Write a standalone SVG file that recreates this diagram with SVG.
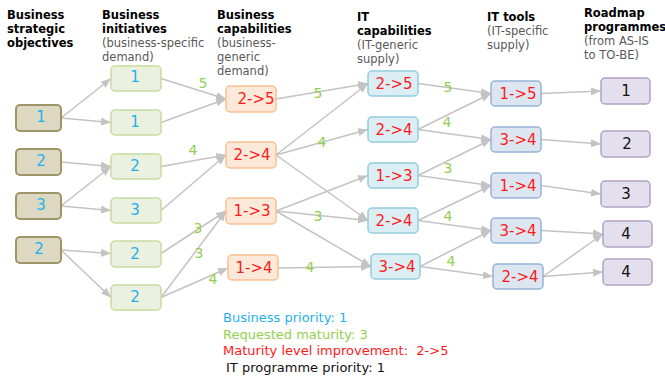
<svg xmlns="http://www.w3.org/2000/svg" width="665" height="378" viewBox="0 0 665 378">
<style>
text{font-family:"DejaVu Sans",Verdana,sans-serif}
.h{font-size:11.5px;fill:#000}
.hb{font-weight:bold}
.hg{fill:#595959}
.n rect{stroke-width:1.5}
.o rect{fill:#ddd8c2;stroke:#9f9567;stroke-width:2}
.i rect{fill:#ebf1de;stroke:#c6dba0}
.b rect{fill:#fde9d9;stroke:#fac090}
.c rect{fill:#daeef3;stroke:#93cddd}
.t rect{fill:#dce6f1;stroke:#95b3d7}
.r rect{fill:#e4dfec;stroke:#b2a1c7}
.n text{font-size:15px;text-anchor:middle}
.blue{fill:#1fb0f0}
.red{fill:#ff1a1a}
.blk{fill:#111}
.lbl{font-size:14px;fill:#92d050;text-anchor:middle}
#connectors line{stroke:#c3c3c3;stroke-width:1.5;marker-end:url(#arr)}
.lg{font-size:13px;white-space:pre}
</style>
<defs>
<marker id="arr" markerUnits="userSpaceOnUse" markerWidth="10" markerHeight="8" refX="10" refY="4" orient="auto">
<path d="M0,0 L10,4 L0,8 Z" fill="#c3c3c3"/>
</marker>
</defs>
<rect width="665" height="378" fill="#fff"/>
<g id="headers" class="h">
<text x="7" y="19" class="hb"><tspan x="7">Business</tspan><tspan x="7" dy="14">strategic</tspan><tspan x="7" dy="14">objectives</tspan></text>
<text x="102" y="19"><tspan x="102" class="hb">Business</tspan><tspan x="102" dy="14" class="hb">initiatives</tspan><tspan x="102" dy="14" class="hg">(business-specific</tspan><tspan x="102" dy="14" class="hg">demand)</tspan></text>
<text x="217" y="19"><tspan x="217" class="hb">Business</tspan><tspan x="217" dy="14" class="hb">capabilities</tspan><tspan x="217" dy="14" class="hg">(business-</tspan><tspan x="217" dy="14" class="hg">generic</tspan><tspan x="217" dy="14" class="hg">demand)</tspan></text>
<text x="357" y="21"><tspan x="357" class="hb">IT</tspan><tspan x="357" dy="14" class="hb">capabilities</tspan><tspan x="357" dy="14" class="hg">(IT-generic</tspan><tspan x="357" dy="14" class="hg">supply)</tspan></text>
<text x="487" y="21"><tspan x="487" class="hb">IT tools</tspan><tspan x="487" dy="14" class="hg">(IT-specific</tspan><tspan x="487" dy="14" class="hg">supply)</tspan></text>
<text x="584" y="17"><tspan x="584" class="hb">Roadmap</tspan><tspan x="584" dy="14" class="hb">programmes</tspan><tspan x="584" dy="14" class="hg">(from AS-IS</tspan><tspan x="584" dy="14" class="hg">to TO-BE)</tspan></text>
</g>
<g id="connectors">
<line x1="61" y1="118" x2="111" y2="78.5"/>
<line x1="61" y1="118" x2="111" y2="122.5"/>
<line x1="61" y1="162" x2="111" y2="166.5"/>
<line x1="61" y1="206" x2="111" y2="166.5"/>
<line x1="61" y1="206" x2="111" y2="210.5"/>
<line x1="61" y1="250" x2="111" y2="253.5"/>
<line x1="61" y1="250" x2="111" y2="297.5"/>
<line x1="161" y1="78.5" x2="226" y2="99"/>
<line x1="161" y1="122.5" x2="226" y2="99"/>
<line x1="161" y1="166.5" x2="226" y2="155"/>
<line x1="161" y1="210.5" x2="226" y2="155"/>
<line x1="161" y1="253.5" x2="226" y2="211"/>
<line x1="161" y1="297.5" x2="226" y2="211"/>
<line x1="161" y1="297.5" x2="228" y2="268"/>
<line x1="276" y1="99" x2="368" y2="83.5"/>
<line x1="276" y1="155" x2="368" y2="83.5"/>
<line x1="276" y1="155" x2="368" y2="129.5"/>
<line x1="276" y1="155" x2="368" y2="220.5"/>
<line x1="276" y1="211" x2="368" y2="175.5"/>
<line x1="276" y1="211" x2="368" y2="220.5"/>
<line x1="276" y1="211" x2="371" y2="266.5"/>
<line x1="278" y1="268" x2="371" y2="266.5"/>
<line x1="418" y1="83.5" x2="491" y2="93.5"/>
<line x1="418" y1="129.5" x2="491" y2="93.5"/>
<line x1="418" y1="129.5" x2="491" y2="139.5"/>
<line x1="418" y1="175.5" x2="491" y2="139.5"/>
<line x1="418" y1="175.5" x2="491" y2="185.5"/>
<line x1="418" y1="220.5" x2="491" y2="185.5"/>
<line x1="418" y1="220.5" x2="491" y2="230.5"/>
<line x1="420" y1="266.5" x2="491" y2="230.5"/>
<line x1="420" y1="266.5" x2="493" y2="276.5"/>
<line x1="541" y1="93.5" x2="601" y2="91"/>
<line x1="541" y1="139.5" x2="601" y2="144"/>
<line x1="541" y1="185.5" x2="601" y2="194"/>
<line x1="541" y1="230.5" x2="603" y2="234"/>
<line x1="543" y1="276.5" x2="603" y2="234"/>
<line x1="543" y1="276.5" x2="603" y2="272"/>
</g>
<g id="edge-labels" class="lbl">
<text x="203" y="88">5</text>
<text x="193" y="155">4</text>
<text x="198" y="233">3</text>
<text x="199" y="258">3</text>
<text x="213" y="284">4</text>
<text x="318" y="98">5</text>
<text x="322" y="147">4</text>
<text x="318" y="221">3</text>
<text x="310" y="272">4</text>
<text x="448" y="92">5</text>
<text x="447" y="127">4</text>
<text x="448" y="173">3</text>
<text x="448" y="221">4</text>
<text x="451" y="266">4</text>
</g>
<g id="o1" class="n o"><rect x="16" y="105" width="45" height="26" rx="4"/><text x="41" y="121.5" class="blue">1</text></g>
<g id="o2" class="n o"><rect x="16" y="149" width="45" height="26" rx="4"/><text x="41" y="165.5" class="blue">2</text></g>
<g id="o3" class="n o"><rect x="16" y="193" width="45" height="26" rx="4"/><text x="41" y="209.5" class="blue">3</text></g>
<g id="o4" class="n o"><rect x="16" y="237" width="45" height="26" rx="4"/><text x="39" y="253.5" class="blue">2</text></g>
<g id="i1" class="n i"><rect x="111" y="66" width="50" height="25" rx="4"/><text x="135" y="82" class="blue">1</text></g>
<g id="i2" class="n i"><rect x="111" y="110" width="50" height="25" rx="4"/><text x="135" y="127" class="blue">1</text></g>
<g id="i3" class="n i"><rect x="111" y="154" width="50" height="25" rx="4"/><text x="135" y="171" class="blue">2</text></g>
<g id="i4" class="n i"><rect x="111" y="198" width="50" height="25" rx="4"/><text x="135" y="215" class="blue">3</text></g>
<g id="i5" class="n i"><rect x="111" y="241" width="50" height="26" rx="4"/><text x="135" y="258.5" class="blue">2</text></g>
<g id="i6" class="n i"><rect x="111" y="285" width="50" height="25" rx="4"/><text x="135" y="302" class="blue">2</text></g>
<g id="b1" class="n b"><rect x="226" y="86" width="50" height="26" rx="4"/><text x="256" y="104" class="red">2-&gt;5</text></g>
<g id="b2" class="n b"><rect x="226" y="142" width="50" height="26" rx="4"/><text x="252" y="160" class="red">2-&gt;4</text></g>
<g id="b3" class="n b"><rect x="226" y="198" width="50" height="26" rx="4"/><text x="252" y="216" class="red">1-&gt;3</text></g>
<g id="b4" class="n b"><rect x="228" y="255" width="50" height="25" rx="4"/><text x="254" y="272.5" class="red">1-&gt;4</text></g>
<g id="c1" class="n c"><rect x="368" y="71" width="50" height="25" rx="4"/><text x="394" y="88.5" class="red">2-&gt;5</text></g>
<g id="c2" class="n c"><rect x="368" y="117" width="50" height="25" rx="4"/><text x="394" y="134.5" class="red">2-&gt;4</text></g>
<g id="c3" class="n c"><rect x="368" y="163" width="50" height="25" rx="4"/><text x="394" y="180.5" class="red">1-&gt;3</text></g>
<g id="c4" class="n c"><rect x="368" y="208" width="50" height="25" rx="4"/><text x="394" y="225.5" class="red">2-&gt;4</text></g>
<g id="c5" class="n c"><rect x="371" y="254" width="49" height="25" rx="4"/><text x="397" y="271.5" class="red">3-&gt;4</text></g>
<g id="t1" class="n t"><rect x="491" y="81" width="50" height="25" rx="4"/><text x="518" y="98.5" class="red">1-&gt;5</text></g>
<g id="t2" class="n t"><rect x="491" y="127" width="50" height="25" rx="4"/><text x="518" y="144.5" class="red">3-&gt;4</text></g>
<g id="t3" class="n t"><rect x="491" y="173" width="50" height="25" rx="4"/><text x="518" y="190.5" class="red">1-&gt;4</text></g>
<g id="t4" class="n t"><rect x="491" y="218" width="50" height="25" rx="4"/><text x="518" y="235.5" class="red">3-&gt;4</text></g>
<g id="t5" class="n t"><rect x="493" y="264" width="50" height="25" rx="4"/><text x="520" y="281.5" class="red">2-&gt;4</text></g>
<g id="r1" class="n r"><rect x="601" y="78" width="49" height="26" rx="4"/><text x="626" y="96" class="blk">1</text></g>
<g id="r2" class="n r"><rect x="601" y="131" width="49" height="26" rx="4"/><text x="627" y="149" class="blk">2</text></g>
<g id="r3" class="n r"><rect x="601" y="181" width="49" height="26" rx="4"/><text x="626" y="199" class="blk">3</text></g>
<g id="r4" class="n r"><rect x="603" y="221" width="49" height="26" rx="4"/><text x="626" y="239" class="blk">4</text></g>
<g id="r5" class="n r"><rect x="603" y="259" width="49" height="26" rx="4"/><text x="626" y="277" class="blk">4</text></g>
<g id="legend" class="lg">
<text x="223" y="322" class="blue">Business priority: 1</text>
<text x="223" y="338.5" fill="#92d050">Requested maturity: 3</text>
<text x="223" y="355" class="red" xml:space="preserve">Maturity level improvement:  2-&gt;5</text>
<text x="226" y="371.5" class="blk">IT programme priority: 1</text>
</g>
</svg>
